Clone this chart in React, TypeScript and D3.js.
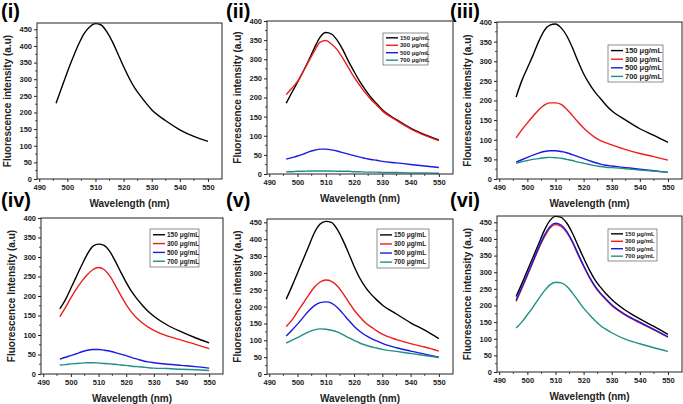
import { useEffect, useRef } from 'react';
import * as d3 from 'd3';

// shared x values (nm)
const wavelengths = [496, 498, 500, 502, 504, 506, 508, 510, 512, 514, 516, 518, 520, 522, 524, 526, 528, 530, 535, 540, 545, 550];
const xTicks = [490, 500, 510, 520, 530, 540, 550];
const concLabels = ['150 μg/mL', '300 μg/mL', '500 μg/mL', '700 μg/mL'];
const seriesColors = ['#000000', '#ee1c1c', '#1a1ae0', '#1f8f88'];

// (i) single spectrum
const panel1 = [228, 275, 322, 365, 405, 438, 458, 467, 463, 443, 413, 376, 338, 303, 273, 250, 228, 208, 175, 148, 128, 113];

// (ii)
const panel2_150 = [185, 213, 240, 268, 298, 330, 358, 370, 366, 350, 325, 295, 268, 242, 220, 200, 184, 168, 142, 120, 103, 89];
const panel2_300 = [208, 224, 242, 268, 295, 322, 345, 349, 340, 325, 303, 278, 253, 232, 212, 195, 180, 165, 140, 118, 101, 87];
const panel2_500 = [39, 43, 47, 52, 58, 62, 65, 65, 63, 60, 56, 52, 48, 44, 41, 38, 36, 33, 29, 25, 21, 17];
const panel2_700 = [6, 6, 7, 7, 8, 8, 8, 8, 8, 7, 7, 7, 6, 6, 5, 5, 5, 4, 4, 3, 3, 2];

// (iii)
const panel3_150 = [209, 250, 283, 315, 350, 378, 392, 395, 385, 365, 335, 300, 268, 243, 222, 205, 188, 174, 150, 128, 111, 93];
const panel3_300 = [105, 125, 143, 160, 176, 188, 194, 194, 190, 178, 162, 145, 130, 117, 106, 98, 92, 87, 75, 65, 57, 48];
const panel3_500 = [43, 49, 55, 61, 66, 70, 72, 72, 70, 67, 62, 57, 52, 47, 42, 38, 35, 33, 29, 25, 21, 17];
const panel3_700 = [40, 44, 47, 50, 52, 54, 55, 54, 53, 50, 47, 43, 40, 37, 34, 32, 30, 29, 26, 23, 20, 17];

// (iv)
const panel4_150 = [167, 190, 220, 250, 280, 308, 328, 333, 330, 315, 290, 262, 235, 211, 192, 175, 160, 148, 125, 108, 93, 80];
const panel4_300 = [147, 170, 195, 218, 238, 255, 268, 273, 268, 252, 228, 202, 178, 158, 142, 130, 120, 112, 97, 87, 76, 65];
const panel4_500 = [38, 43, 47, 52, 57, 61, 63, 63, 61, 59, 55, 51, 47, 42, 38, 34, 31, 29, 25, 22, 19, 15];
const panel4_700 = [23, 24, 26, 27, 28, 29, 29, 28, 27, 26, 25, 23, 22, 20, 19, 18, 16, 15, 14, 12, 11, 9];

// (v)
const panel5_150 = [222, 260, 300, 340, 380, 420, 445, 453, 450, 430, 398, 360, 320, 285, 258, 237, 220, 205, 178, 152, 130, 105];
const panel5_300 = [141, 160, 185, 210, 235, 258, 273, 279, 275, 262, 240, 215, 190, 170, 152, 140, 128, 118, 102, 90, 80, 68];
const panel5_500 = [113, 130, 148, 168, 188, 203, 212, 214, 210, 198, 180, 160, 142, 127, 115, 106, 98, 91, 78, 68, 59, 50];
const panel5_700 = [92, 100, 108, 117, 125, 131, 134, 133, 130, 125, 117, 108, 100, 92, 86, 81, 77, 73, 67, 61, 55, 49];

// (vi)
const panel6_150 = [227, 265, 305, 345, 385, 425, 455, 468, 465, 448, 418, 380, 343, 308, 278, 255, 235, 218, 185, 160, 137, 113];
const panel6_300 = [212, 250, 290, 330, 370, 405, 432, 443, 438, 420, 390, 353, 318, 285, 257, 235, 217, 200, 170, 148, 127, 105];
const panel6_500 = [216, 254, 294, 334, 374, 410, 437, 447, 442, 423, 393, 356, 320, 287, 259, 237, 219, 202, 172, 150, 128, 106];
const panel6_700 = [132, 150, 172, 195, 220, 243, 262, 270, 268, 258, 238, 215, 192, 173, 155, 140, 128, 118, 98, 85, 73, 62];

const yTicks400 = [0, 50, 100, 150, 200, 250, 300, 350, 400];
const yTicks450 = [0, 50, 100, 150, 200, 250, 300, 350, 400, 450];

const panels = [
  { tag: '(i)', yTitle: 'Fluorescence intensity (a.u)', yMax: 469, yTicks: yTicks450, series: [panel1] },
  { tag: '(ii)', yTitle: 'Fluorescence intensity (a.u)', yMax: 400, yTicks: yTicks400, series: [panel2_150, panel2_300, panel2_500, panel2_700] },
  { tag: '(iii)', yTitle: 'Flourescence intensity (a.u)', yMax: 400, yTicks: yTicks400, series: [panel3_150, panel3_300, panel3_500, panel3_700] },
  { tag: '(iv)', yTitle: 'Fluorescence Intensity (a.u)', yMax: 400, yTicks: yTicks400, series: [panel4_150, panel4_300, panel4_500, panel4_700] },
  { tag: '(v)', yTitle: 'Fluorescence intensity (a.u)', yMax: 460, yTicks: yTicks450, series: [panel5_150, panel5_300, panel5_500, panel5_700] },
  { tag: '(vi)', yTitle: 'Fluorescence intensity (a.u)', yMax: 469, yTicks: yTicks450, series: [panel6_150, panel6_300, panel6_500, panel6_700] },
];

// plot boxes and legend boxes (layout only)
const layout = [
  { l: 37, r: 222, t: 23, b: 179, tagX: 1, tagY: 18, leg: null },
  { l: 267, r: 453, t: 21, b: 174, tagX: 226, tagY: 18, leg: { x: 383, y: 33, w: 45, h: 32, fs: 6 } },
  { l: 497, r: 682, t: 22, b: 179, tagX: 450, tagY: 18, leg: { x: 608, y: 45, w: 55, h: 37, fs: 7.5 } },
  { l: 41, r: 223, t: 218, b: 374, tagX: 1, tagY: 207, leg: { x: 150, y: 229, w: 49, h: 38, fs: 6.5 } },
  { l: 267, r: 453, t: 219, b: 374, tagX: 226, tagY: 207, leg: { x: 377, y: 229, w: 52, h: 39, fs: 6.5 } },
  { l: 497, r: 682, t: 216, b: 372, tagX: 450, tagY: 207, leg: { x: 608, y: 229, w: 49, h: 32, fs: 6 } },
];

const FONT = '"Liberation Sans", Arial, sans-serif';

export default function App() {
  const svgRef = useRef<SVGSVGElement>(null);

  useEffect(() => {
    if (!svgRef.current) return;
    const svg = d3.select(svgRef.current);
    svg.selectAll('*').remove();
    svg.append('rect').attr('width', 683).attr('height', 404).attr('fill', '#fff');

    panels.forEach((p, i) => {
      const box = layout[i];
      const x = d3.scaleLinear().domain([489.2, 555]).range([box.l, box.r]);
      const y = d3.scaleLinear().domain([0, p.yMax]).range([box.b, box.t]);
      const g = svg.append('g');

      // minor ticks
      const minorX = d3.range(495, 555, 10);
      const minorY = d3.range(25, p.yMax, 50);
      g.selectAll('.mx').data(minorX).join('line')
        .attr('x1', d => x(d)).attr('x2', d => x(d))
        .attr('y1', box.b).attr('y2', box.b + 2)
        .attr('stroke', '#222').attr('stroke-width', 0.8);
      g.selectAll('.my').data(minorY).join('line')
        .attr('y1', d => y(d)).attr('y2', d => y(d))
        .attr('x1', box.l - 2).attr('x2', box.l)
        .attr('stroke', '#222').attr('stroke-width', 0.8);

      // x axis
      g.append('g')
        .attr('transform', `translate(0,${box.b})`)
        .call(d3.axisBottom(x).tickValues(xTicks).tickSize(3).tickPadding(3).tickFormat(d => String(d)))
        .call(a => a.select('.domain').remove())
        .call(a => a.selectAll('.tick line').attr('stroke', '#222'))
        .call(a => a.selectAll('.tick text').attr('fill', '#222').attr('font-family', FONT)
          .attr('font-weight', 'bold').style('font-size', '7.5px'));

      // y axis
      g.append('g')
        .attr('transform', `translate(${box.l},0)`)
        .call(d3.axisLeft(y).tickValues(p.yTicks).tickSize(3).tickPadding(2).tickFormat(d => String(d)))
        .call(a => a.select('.domain').remove())
        .call(a => a.selectAll('.tick line').attr('stroke', '#222'))
        .call(a => a.selectAll('.tick text').attr('fill', '#222').attr('font-family', FONT)
          .attr('font-weight', 'bold').style('font-size', '7.5px'));

      // curves
      const line = d3.line<number>()
        .x((_d, k) => x(wavelengths[k]))
        .y(d => y(d))
        .curve(d3.curveMonotoneX);
      p.series.forEach((s, k) => {
        g.append('path')
          .datum(s)
          .attr('fill', 'none')
          .attr('stroke', seriesColors[k])
          .attr('stroke-width', 1.4)
          .attr('d', line);
      });

      // frame
      g.append('rect')
        .attr('x', box.l).attr('y', box.t)
        .attr('width', box.r - box.l).attr('height', box.b - box.t)
        .attr('fill', 'none').attr('stroke', '#222').attr('stroke-width', 1);

      // axis titles
      g.append('text')
        .attr('x', (box.l + box.r) / 2).attr('y', box.b + 28)
        .attr('text-anchor', 'middle')
        .attr('font-family', FONT).attr('font-weight', 'bold').attr('font-size', 10)
        .attr('fill', '#222')
        .text('Wavelength (nm)');
      g.append('text')
        .attr('transform', `translate(${box.l - 26},${(box.t + box.b) / 2}) rotate(-90)`)
        .attr('text-anchor', 'middle')
        .attr('font-family', FONT).attr('font-weight', 'bold').attr('font-size', 10)
        .attr('fill', '#222')
        .text(p.yTitle);

      // panel tag
      g.append('text')
        .attr('x', box.tagX).attr('y', box.tagY)
        .attr('font-family', FONT).attr('font-weight', 'bold').attr('font-size', 20)
        .attr('fill', '#000')
        .text(p.tag);

      // legend
      if (box.leg && p.series.length > 1) {
        const lg = box.leg;
        g.append('rect')
          .attr('x', lg.x).attr('y', lg.y).attr('width', lg.w).attr('height', lg.h)
          .attr('fill', '#fff').attr('stroke', '#444').attr('stroke-width', 0.6);
        const step = lg.h / 4.3;
        p.series.forEach((_s, k) => {
          const cy = lg.y + step * (k + 0.65);
          g.append('line')
            .attr('x1', lg.x + 3).attr('x2', lg.x + 15)
            .attr('y1', cy).attr('y2', cy)
            .attr('stroke', seriesColors[k]).attr('stroke-width', 1.4);
          g.append('text')
            .attr('x', lg.x + 17).attr('y', cy + lg.fs * 0.35)
            .attr('font-family', FONT).attr('font-weight', 'bold').attr('font-size', lg.fs)
            .attr('fill', '#222')
            .text(concLabels[k]);
        });
      }
    });
  }, []);

  return (
    <svg
      ref={svgRef}
      width={683}
      height={404}
      style={{ position: 'absolute', left: 0, top: 0 }}
    />
  );
}
